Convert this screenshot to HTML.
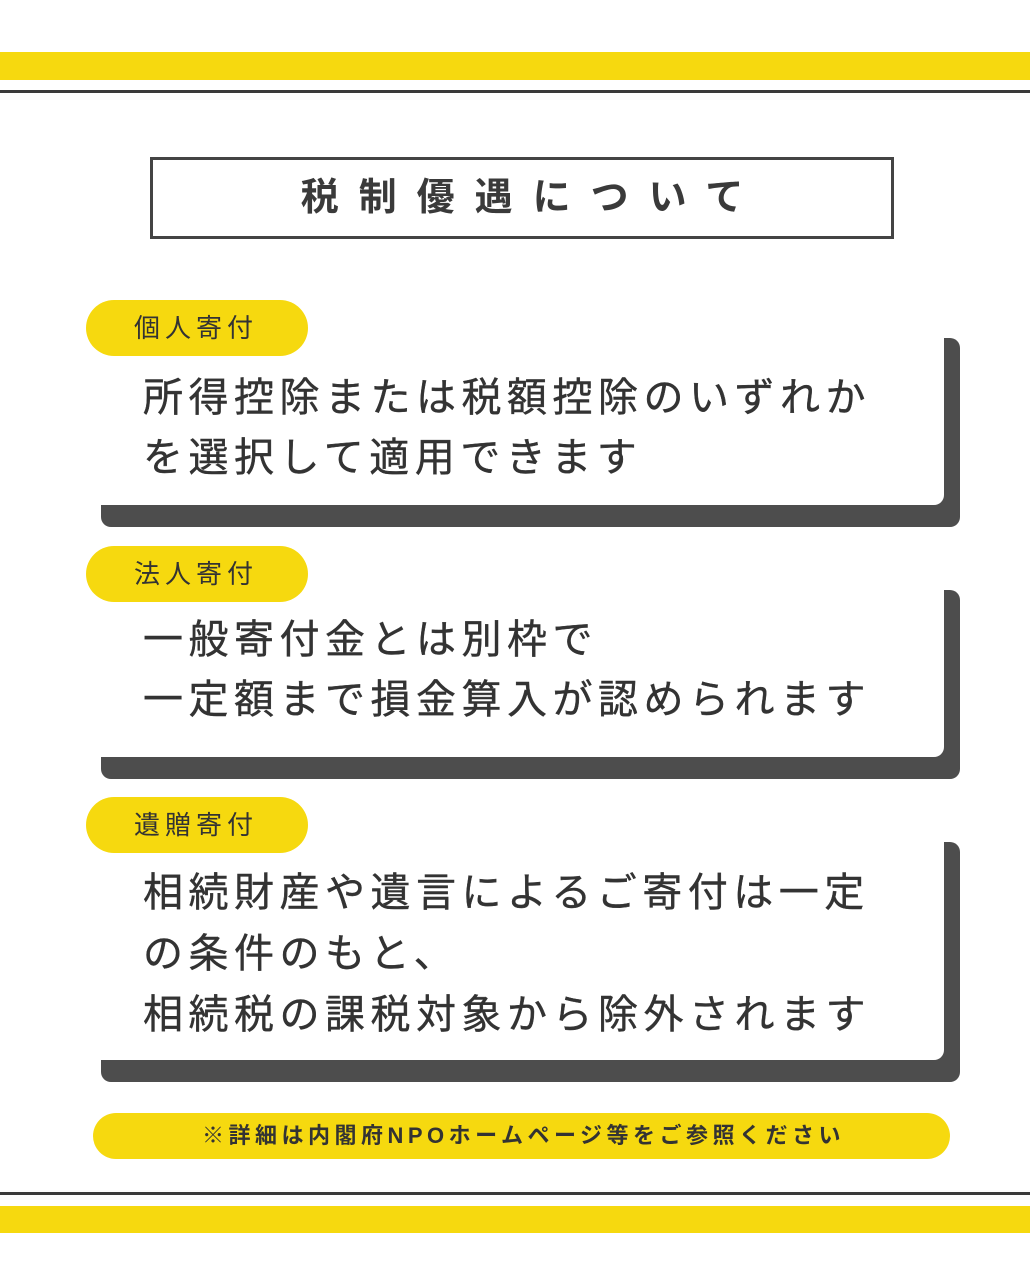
<!DOCTYPE html>
<html><head><meta charset="utf-8"><style>
*{margin:0;padding:0;box-sizing:border-box}
body{width:1030px;height:1286px;background:#fff;position:relative;overflow:hidden;font-family:"Liberation Sans","Noto Sans CJK JP",sans-serif;color:#333}
.a{position:absolute}
.y{background:#f6d90f}
.d{background:#4d4d4d}
.title{left:150px;top:157px;width:744px;height:82px;border:3px solid #444;font-weight:bold;font-size:38px;letter-spacing:20px;line-height:76px;text-align:center;padding-left:20px;color:#3a3a3a}
.pill{left:86px;width:222px;height:56px;border-radius:28px;font-size:26px;line-height:56px;padding-left:48px;letter-spacing:5px;color:#333}
.sh{left:101px;width:859px;border-radius:10px}
.card{left:60px;width:884px;background:#fff;border-bottom-right-radius:10px}
.tx{left:143px;font-size:40px;letter-spacing:5.5px;line-height:60px;color:#333;white-space:nowrap;-webkit-text-stroke:0.4px #333}
</style></head><body>
<div class="a y" style="left:0;top:52px;width:1030px;height:28px"></div>
<div class="a d" style="left:0;top:90px;width:1030px;height:3px;background:#3a3a3a"></div>
<div class="a title">税制優遇について</div>

<div class="a d sh" style="top:338px;height:189px"></div>
<div class="a card" style="top:290px;height:215px"></div>
<div class="a y pill" style="top:300px">個人寄付</div>
<div class="a tx" style="top:368px">所得控除または税額控除のいずれか<br>を選択して適用できます</div>

<div class="a d sh" style="top:590px;height:189px"></div>
<div class="a card" style="top:540px;height:217px"></div>
<div class="a y pill" style="top:546px">法人寄付</div>
<div class="a tx" style="top:610px">一般寄付金とは別枠で<br>一定額まで損金算入が認められます</div>

<div class="a d sh" style="top:842px;height:240px"></div>
<div class="a card" style="top:790px;height:270px"></div>
<div class="a y pill" style="top:797px">遺贈寄付</div>
<div class="a tx" style="top:863px;line-height:61px">相続財産や遺言によるご寄付は一定<br>の条件のもと、<br>相続税の課税対象から除外されます</div>

<div class="a y" style="left:93px;top:1113px;width:857px;height:46px;border-radius:23px;font-size:22px;font-weight:bold;line-height:46px;text-align:center;letter-spacing:4.5px;padding-left:4px;color:#333">※詳細は内閣府NPOホームページ等をご参照ください</div>

<div class="a" style="left:0;top:1192px;width:1030px;height:3px;background:#3a3a3a"></div>
<div class="a y" style="left:0;top:1206px;width:1030px;height:27px"></div>
</body></html>
